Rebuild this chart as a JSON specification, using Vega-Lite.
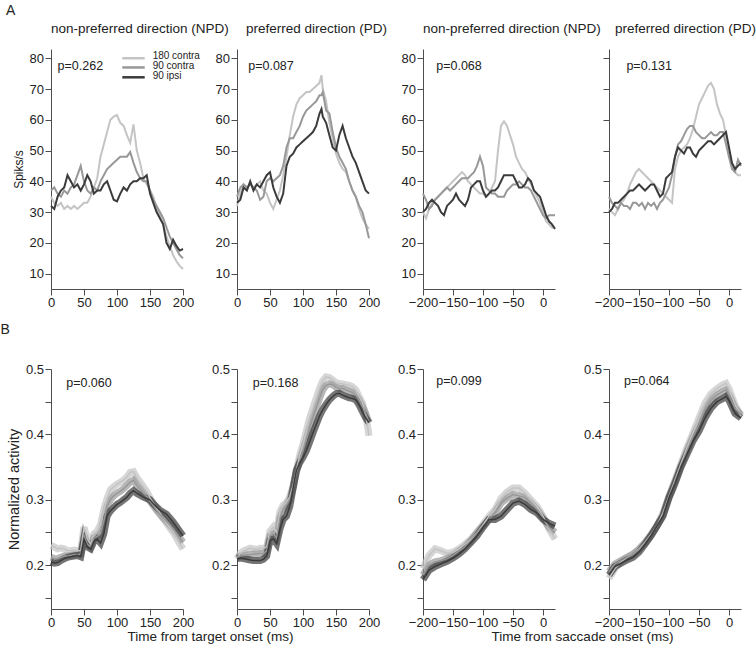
{
  "$schema": "https://vega.github.io/schema/vega-lite/v6.json",
  "background": "white",
  "padding": {"left": 0, "top": 3, "right": 4, "bottom": 2},
  "config": {
    "font": "Liberation Sans",
    "view": {"stroke": null},
    "axis": {"grid": false, "domainColor": "#4d4d4d", "tickColor": "#4d4d4d", "labelColor": "#222", "titleColor": "#222", "labelFontSize": 13, "tickSize": 6, "labelPadding": 1.5, "titleFontWeight": "normal", "titleFontSize": 13.5, "labelFlush": false, "labelOverlap": false, "labelBound": false},
    "title": {"fontWeight": "normal", "fontSize": 13.5, "color": "#222"}
  },
  "datasets": {
    "top1": [
      {"t":0,"c180":35,"c90":37,"i90":32},{"t":5,"c180":33,"c90":38,"i90":31},{"t":10,"c180":32,"c90":36,"i90":35},{"t":15,"c180":33,"c90":35,"i90":37},{"t":20,"c180":31,"c90":37,"i90":38},{"t":25,"c180":32,"c90":36,"i90":42},{"t":30,"c180":31,"c90":38,"i90":40},{"t":35,"c180":32,"c90":39,"i90":38},{"t":40,"c180":31,"c90":42,"i90":39},{"t":45,"c180":32,"c90":45,"i90":37},{"t":50,"c180":33,"c90":40,"i90":39},{"t":55,"c180":33,"c90":37,"i90":42},{"t":60,"c180":35,"c90":36,"i90":40},{"t":65,"c180":38,"c90":38,"i90":36},{"t":70,"c180":41,"c90":37,"i90":37},{"t":75,"c180":48,"c90":40,"i90":37},{"t":80,"c180":52,"c90":42,"i90":39},{"t":85,"c180":56,"c90":44,"i90":40},{"t":90,"c180":60,"c90":45,"i90":37},{"t":95,"c180":61,"c90":46,"i90":34},{"t":100,"c180":61.5,"c90":47,"i90":33.5},{"t":105,"c180":59,"c90":48,"i90":36},{"t":110,"c180":58,"c90":48,"i90":38},{"t":115,"c180":55,"c90":48,"i90":37},{"t":120,"c180":52.5,"c90":49.5,"i90":39},{"t":125,"c180":58.5,"c90":46,"i90":40},{"t":130,"c180":50,"c90":43,"i90":40},{"t":135,"c180":46,"c90":41,"i90":41},{"t":140,"c180":41,"c90":40,"i90":41},{"t":145,"c180":39,"c90":40,"i90":42},{"t":150,"c180":37,"c90":37,"i90":36},{"t":155,"c180":35,"c90":34,"i90":33},{"t":160,"c180":31,"c90":32,"i90":30},{"t":165,"c180":29,"c90":30,"i90":28},{"t":170,"c180":26,"c90":28,"i90":26},{"t":175,"c180":22,"c90":25,"i90":20},{"t":180,"c180":19,"c90":22,"i90":18},{"t":185,"c180":16,"c90":20,"i90":21},{"t":190,"c180":14,"c90":18,"i90":19},{"t":195,"c180":12.5,"c90":16,"i90":17.5},{"t":200,"c180":11.5,"c90":15,"i90":18}
    ],
    "top2": [
      {"t":0,"c180":32,"c90":35,"i90":33},{"t":5,"c180":36,"c90":38,"i90":34},{"t":10,"c180":39,"c90":39,"i90":38},{"t":15,"c180":38,"c90":38,"i90":37},{"t":20,"c180":39,"c90":39,"i90":40},{"t":25,"c180":38,"c90":38,"i90":37},{"t":30,"c180":39,"c90":37,"i90":39},{"t":35,"c180":40,"c90":34,"i90":38},{"t":40,"c180":37,"c90":35,"i90":40},{"t":45,"c180":36,"c90":40,"i90":42},{"t":50,"c180":33,"c90":41,"i90":43},{"t":55,"c180":31,"c90":40,"i90":38},{"t":60,"c180":34,"c90":41,"i90":35},{"t":65,"c180":37,"c90":42,"i90":33},{"t":70,"c180":42,"c90":45,"i90":36},{"t":75,"c180":48,"c90":51,"i90":45},{"t":80,"c180":55,"c90":54,"i90":48},{"t":85,"c180":61,"c90":54,"i90":49},{"t":90,"c180":65,"c90":56,"i90":51},{"t":95,"c180":67,"c90":58,"i90":52},{"t":100,"c180":68,"c90":61,"i90":53},{"t":105,"c180":69,"c90":63,"i90":54},{"t":110,"c180":69,"c90":64,"i90":55},{"t":115,"c180":70,"c90":65,"i90":56},{"t":120,"c180":71,"c90":66,"i90":58},{"t":125,"c180":72,"c90":68,"i90":62},{"t":128,"c180":74.5,"c90":68,"i90":63.5},{"t":130,"c180":70,"c90":69,"i90":61},{"t":135,"c180":66,"c90":63,"i90":59},{"t":140,"c180":59,"c90":62,"i90":55},{"t":145,"c180":54,"c90":56,"i90":51},{"t":150,"c180":49,"c90":51,"i90":50},{"t":155,"c180":46,"c90":48,"i90":55},{"t":160,"c180":44,"c90":46,"i90":58},{"t":165,"c180":43,"c90":44,"i90":54},{"t":170,"c180":40,"c90":40,"i90":51},{"t":175,"c180":37,"c90":37,"i90":48},{"t":180,"c180":35,"c90":35,"i90":46},{"t":185,"c180":31,"c90":32,"i90":43},{"t":190,"c180":28,"c90":30,"i90":40},{"t":195,"c180":26,"c90":26,"i90":37},{"t":200,"c180":24.5,"c90":21.5,"i90":36}
    ],
    "top3": [
      {"t":-200,"c180":30,"c90":36,"i90":30},{"t":-195,"c180":28,"c90":34,"i90":31},{"t":-190,"c180":31,"c90":31,"i90":33},{"t":-185,"c180":33,"c90":32,"i90":34},{"t":-180,"c180":34,"c90":34,"i90":33},{"t":-175,"c180":35,"c90":35,"i90":32},{"t":-170,"c180":36,"c90":36,"i90":30},{"t":-165,"c180":37,"c90":37,"i90":29},{"t":-160,"c180":38,"c90":38,"i90":32},{"t":-155,"c180":39,"c90":37,"i90":33},{"t":-150,"c180":40,"c90":38,"i90":34},{"t":-145,"c180":41,"c90":39,"i90":36},{"t":-140,"c180":42,"c90":40,"i90":34},{"t":-135,"c180":43,"c90":41,"i90":33},{"t":-130,"c180":42,"c90":41,"i90":32},{"t":-125,"c180":40,"c90":41,"i90":34},{"t":-120,"c180":39,"c90":42,"i90":38},{"t":-115,"c180":38,"c90":43,"i90":39},{"t":-110,"c180":37,"c90":45,"i90":40},{"t":-105,"c180":36,"c90":48,"i90":40},{"t":-100,"c180":36,"c90":45,"i90":37},{"t":-95,"c180":35,"c90":38,"i90":35},{"t":-90,"c180":36,"c90":37,"i90":36},{"t":-85,"c180":38,"c90":36,"i90":37},{"t":-80,"c180":40,"c90":36,"i90":37},{"t":-75,"c180":50,"c90":35,"i90":38},{"t":-70,"c180":58,"c90":35,"i90":40},{"t":-65,"c180":59.5,"c90":35,"i90":42},{"t":-60,"c180":58,"c90":37,"i90":42},{"t":-55,"c180":55,"c90":38,"i90":42},{"t":-50,"c180":52,"c90":39,"i90":42},{"t":-45,"c180":48,"c90":39,"i90":40},{"t":-40,"c180":46,"c90":40,"i90":38},{"t":-35,"c180":44,"c90":39,"i90":38},{"t":-30,"c180":43,"c90":38,"i90":39},{"t":-25,"c180":41,"c90":38,"i90":41},{"t":-20,"c180":39,"c90":37,"i90":40},{"t":-15,"c180":37,"c90":35,"i90":37},{"t":-10,"c180":35,"c90":33,"i90":36},{"t":-5,"c180":33,"c90":31,"i90":35},{"t":0,"c180":30,"c90":29,"i90":32},{"t":5,"c180":27,"c90":28,"i90":29},{"t":10,"c180":26,"c90":29,"i90":27},{"t":15,"c180":25,"c90":29,"i90":26},{"t":20,"c180":25,"c90":29,"i90":24.5}
    ],
    "top4": [
      {"t":-200,"c180":31,"c90":35,"i90":30},{"t":-195,"c180":30,"c90":33,"i90":31},{"t":-190,"c180":29,"c90":32,"i90":33},{"t":-185,"c180":31,"c90":31,"i90":33},{"t":-180,"c180":33,"c90":33,"i90":34},{"t":-175,"c180":34,"c90":32,"i90":35},{"t":-170,"c180":36,"c90":32,"i90":36},{"t":-165,"c180":39,"c90":31,"i90":37},{"t":-160,"c180":41,"c90":33,"i90":37},{"t":-155,"c180":43,"c90":33,"i90":38},{"t":-150,"c180":44,"c90":32,"i90":39},{"t":-145,"c180":43,"c90":33,"i90":38},{"t":-140,"c180":42,"c90":31,"i90":37},{"t":-135,"c180":41,"c90":33,"i90":38},{"t":-130,"c180":40,"c90":32,"i90":39},{"t":-125,"c180":39,"c90":33,"i90":39},{"t":-120,"c180":38,"c90":31,"i90":37},{"t":-115,"c180":37,"c90":33,"i90":35},{"t":-110,"c180":36,"c90":34,"i90":36},{"t":-105,"c180":35,"c90":36,"i90":41},{"t":-100,"c180":34,"c90":38,"i90":42},{"t":-95,"c180":33,"c90":42,"i90":43},{"t":-90,"c180":44,"c90":48,"i90":48},{"t":-85,"c180":48,"c90":52,"i90":51},{"t":-80,"c180":50,"c90":53,"i90":50},{"t":-75,"c180":51,"c90":55,"i90":49},{"t":-70,"c180":52,"c90":57,"i90":51},{"t":-65,"c180":54,"c90":58,"i90":51},{"t":-60,"c180":57,"c90":58,"i90":49},{"t":-55,"c180":61,"c90":56,"i90":48},{"t":-50,"c180":65,"c90":55,"i90":50},{"t":-45,"c180":67,"c90":54,"i90":51},{"t":-40,"c180":69,"c90":54,"i90":52},{"t":-35,"c180":71,"c90":55,"i90":53},{"t":-30,"c180":72,"c90":56,"i90":53},{"t":-25,"c180":70,"c90":55,"i90":52},{"t":-20,"c180":65,"c90":55,"i90":53},{"t":-15,"c180":62,"c90":56,"i90":54},{"t":-10,"c180":60,"c90":56,"i90":55},{"t":-5,"c180":55,"c90":52,"i90":56},{"t":0,"c180":48,"c90":48,"i90":51},{"t":5,"c180":45,"c90":44,"i90":46},{"t":10,"c180":43,"c90":43,"i90":44},{"t":15,"c180":42,"c90":47,"i90":45},{"t":20,"c180":42,"c90":45,"i90":46}
    ],
    "bot1": [
      {"t":0,"c180":0.23,"c90":0.212,"i90":0.205},{"t":5,"c180":0.228,"c90":0.21,"i90":0.203},{"t":10,"c180":0.225,"c90":0.21,"i90":0.204},{"t":15,"c180":0.226,"c90":0.212,"i90":0.207},{"t":20,"c180":0.225,"c90":0.214,"i90":0.21},{"t":25,"c180":0.222,"c90":0.214,"i90":0.212},{"t":30,"c180":0.222,"c90":0.215,"i90":0.213},{"t":35,"c180":0.223,"c90":0.216,"i90":0.214},{"t":40,"c180":0.222,"c90":0.216,"i90":0.215},{"t":45,"c180":0.222,"c90":0.217,"i90":0.213},{"t":50,"c180":0.258,"c90":0.245,"i90":0.24},{"t":55,"c180":0.24,"c90":0.232,"i90":0.228},{"t":60,"c180":0.232,"c90":0.228,"i90":0.225},{"t":65,"c180":0.248,"c90":0.242,"i90":0.236},{"t":70,"c180":0.252,"c90":0.244,"i90":0.24},{"t":75,"c180":0.262,"c90":0.248,"i90":0.234},{"t":80,"c180":0.285,"c90":0.268,"i90":0.248},{"t":85,"c180":0.302,"c90":0.29,"i90":0.275},{"t":90,"c180":0.315,"c90":0.3,"i90":0.283},{"t":95,"c180":0.32,"c90":0.306,"i90":0.288},{"t":100,"c180":0.324,"c90":0.31,"i90":0.293},{"t":105,"c180":0.327,"c90":0.313,"i90":0.296},{"t":110,"c180":0.33,"c90":0.317,"i90":0.3},{"t":115,"c180":0.335,"c90":0.322,"i90":0.304},{"t":120,"c180":0.342,"c90":0.327,"i90":0.31},{"t":125,"c180":0.343,"c90":0.33,"i90":0.314},{"t":130,"c180":0.334,"c90":0.322,"i90":0.31},{"t":135,"c180":0.327,"c90":0.316,"i90":0.307},{"t":140,"c180":0.32,"c90":0.31,"i90":0.304},{"t":145,"c180":0.313,"c90":0.305,"i90":0.302},{"t":150,"c180":0.303,"c90":0.298,"i90":0.3},{"t":155,"c180":0.295,"c90":0.291,"i90":0.294},{"t":160,"c180":0.287,"c90":0.284,"i90":0.289},{"t":165,"c180":0.28,"c90":0.278,"i90":0.284},{"t":170,"c180":0.272,"c90":0.272,"i90":0.281},{"t":175,"c180":0.264,"c90":0.267,"i90":0.278},{"t":180,"c180":0.257,"c90":0.262,"i90":0.272},{"t":185,"c180":0.25,"c90":0.256,"i90":0.266},{"t":190,"c180":0.242,"c90":0.249,"i90":0.259},{"t":195,"c180":0.233,"c90":0.242,"i90":0.252},{"t":200,"c180":0.225,"c90":0.235,"i90":0.245}
    ],
    "bot2": [
      {"t":0,"c180":0.21,"c90":0.212,"i90":0.21},{"t":5,"c180":0.218,"c90":0.214,"i90":0.211},{"t":10,"c180":0.222,"c90":0.215,"i90":0.21},{"t":15,"c180":0.224,"c90":0.216,"i90":0.209},{"t":20,"c180":0.226,"c90":0.216,"i90":0.208},{"t":25,"c180":0.225,"c90":0.217,"i90":0.207},{"t":30,"c180":0.224,"c90":0.217,"i90":0.207},{"t":35,"c180":0.226,"c90":0.218,"i90":0.207},{"t":40,"c180":0.226,"c90":0.218,"i90":0.209},{"t":45,"c180":0.228,"c90":0.222,"i90":0.214},{"t":50,"c180":0.252,"c90":0.245,"i90":0.238},{"t":55,"c180":0.258,"c90":0.248,"i90":0.24},{"t":60,"c180":0.25,"c90":0.242,"i90":0.233},{"t":65,"c180":0.282,"c90":0.272,"i90":0.255},{"t":70,"c180":0.292,"c90":0.285,"i90":0.27},{"t":75,"c180":0.296,"c90":0.292,"i90":0.275},{"t":80,"c180":0.305,"c90":0.3,"i90":0.29},{"t":85,"c180":0.322,"c90":0.318,"i90":0.318},{"t":90,"c180":0.345,"c90":0.342,"i90":0.345},{"t":95,"c180":0.368,"c90":0.36,"i90":0.357},{"t":100,"c180":0.385,"c90":0.375,"i90":0.365},{"t":105,"c180":0.405,"c90":0.392,"i90":0.375},{"t":110,"c180":0.425,"c90":0.41,"i90":0.388},{"t":115,"c180":0.44,"c90":0.425,"i90":0.402},{"t":120,"c180":0.455,"c90":0.44,"i90":0.415},{"t":125,"c180":0.47,"c90":0.455,"i90":0.428},{"t":130,"c180":0.482,"c90":0.468,"i90":0.438},{"t":135,"c180":0.488,"c90":0.475,"i90":0.446},{"t":140,"c180":0.487,"c90":0.477,"i90":0.453},{"t":145,"c180":0.483,"c90":0.476,"i90":0.458},{"t":150,"c180":0.479,"c90":0.472,"i90":0.462},{"t":155,"c180":0.478,"c90":0.47,"i90":0.463},{"t":160,"c180":0.477,"c90":0.47,"i90":0.46},{"t":165,"c180":0.476,"c90":0.468,"i90":0.458},{"t":170,"c180":0.475,"c90":0.466,"i90":0.456},{"t":175,"c180":0.473,"c90":0.464,"i90":0.455},{"t":180,"c180":0.468,"c90":0.46,"i90":0.453},{"t":185,"c180":0.458,"c90":0.452,"i90":0.445},{"t":190,"c180":0.448,"c90":0.443,"i90":0.435},{"t":195,"c180":0.43,"c90":0.432,"i90":0.425},{"t":200,"c180":0.398,"c90":0.418,"i90":0.418}
    ],
    "bot3": [
      {"t":-200,"c180":0.195,"c90":0.185,"i90":0.178},{"t":-190,"c180":0.215,"c90":0.2,"i90":0.192},{"t":-180,"c180":0.225,"c90":0.205,"i90":0.198},{"t":-170,"c180":0.222,"c90":0.207,"i90":0.202},{"t":-160,"c180":0.218,"c90":0.21,"i90":0.206},{"t":-150,"c180":0.22,"c90":0.215,"i90":0.211},{"t":-140,"c180":0.225,"c90":0.222,"i90":0.217},{"t":-130,"c180":0.232,"c90":0.228,"i90":0.225},{"t":-120,"c180":0.24,"c90":0.238,"i90":0.235},{"t":-110,"c180":0.25,"c90":0.25,"i90":0.245},{"t":-100,"c180":0.262,"c90":0.26,"i90":0.258},{"t":-90,"c180":0.275,"c90":0.27,"i90":0.27},{"t":-80,"c180":0.285,"c90":0.28,"i90":0.27},{"t":-70,"c180":0.302,"c90":0.295,"i90":0.275},{"t":-60,"c180":0.312,"c90":0.302,"i90":0.285},{"t":-50,"c180":0.318,"c90":0.308,"i90":0.295},{"t":-40,"c180":0.318,"c90":0.306,"i90":0.298},{"t":-30,"c180":0.31,"c90":0.303,"i90":0.293},{"t":-20,"c180":0.3,"c90":0.295,"i90":0.285},{"t":-10,"c180":0.29,"c90":0.285,"i90":0.28},{"t":0,"c180":0.275,"c90":0.272,"i90":0.27},{"t":10,"c180":0.255,"c90":0.258,"i90":0.264},{"t":20,"c180":0.24,"c90":0.25,"i90":0.26}
    ],
    "bot4": [
      {"t":-200,"c180":0.18,"c90":0.19,"i90":0.185},{"t":-190,"c180":0.195,"c90":0.202,"i90":0.198},{"t":-180,"c180":0.205,"c90":0.207,"i90":0.203},{"t":-170,"c180":0.212,"c90":0.212,"i90":0.208},{"t":-160,"c180":0.217,"c90":0.217,"i90":0.212},{"t":-150,"c180":0.225,"c90":0.224,"i90":0.22},{"t":-140,"c180":0.235,"c90":0.234,"i90":0.232},{"t":-130,"c180":0.247,"c90":0.246,"i90":0.245},{"t":-120,"c180":0.26,"c90":0.26,"i90":0.26},{"t":-110,"c180":0.28,"c90":0.277,"i90":0.275},{"t":-100,"c180":0.305,"c90":0.305,"i90":0.303},{"t":-90,"c180":0.33,"c90":0.328,"i90":0.325},{"t":-80,"c180":0.355,"c90":0.352,"i90":0.35},{"t":-70,"c180":0.38,"c90":0.375,"i90":0.37},{"t":-60,"c180":0.402,"c90":0.396,"i90":0.39},{"t":-50,"c180":0.425,"c90":0.415,"i90":0.405},{"t":-40,"c180":0.448,"c90":0.438,"i90":0.425},{"t":-30,"c180":0.462,"c90":0.452,"i90":0.44},{"t":-20,"c180":0.47,"c90":0.46,"i90":0.45},{"t":-10,"c180":0.476,"c90":0.466,"i90":0.455},{"t":-5,"c180":0.478,"c90":0.468,"i90":0.458},{"t":0,"c180":0.47,"c90":0.46,"i90":0.452},{"t":10,"c180":0.445,"c90":0.44,"i90":0.432},{"t":20,"c180":0.428,"c90":0.43,"i90":0.425}
    ]
  },
  "spacing": 12,
  "vconcat": [
    {
      "title": {"text": "A", "anchor": "start", "fontSize": 14, "offset": 4, "dx": -6},
      "spacing": 54,
      "bounds": "flush",
      "hconcat": [
        {
          "width": 132, "height": 240,
          "title": {"text": "non-preferred direction (NPD)", "anchor": "start", "frame": "group", "baseline": "bottom", "offset": 0, "dx": 0},
          "layer": [
            {
              "data": {"name": "top1"},
              "transform": [{"fold": ["c180", "c90", "i90"], "as": ["k", "v"]}],
              "mark": {"type": "line", "strokeWidth": 2},
              "encoding": {
                "x": {"field": "t", "type": "quantitative", "scale": {"domain": [0, 200], "nice": false, "zero": false}, "axis": {"values": [0, 50, 100, 150, 200], "title": null, "labelOverlap": false}},
                "y": {"field": "v", "type": "quantitative", "scale": {"domain": [5, 83], "nice": false, "zero": false}, "axis": {"values": [10, 20, 30, 40, 50, 60, 70, 80], "title": "Spiks/s", "titleFontSize": 12, "titlePadding": 4, "labelOverlap": false}},
                "color": {"field": "k", "type": "nominal", "scale": {"domain": ["c180", "c90", "i90"], "range": ["#c4c4c4", "#989898", "#3b3b3b"]}, "legend": null}
              }
            },
            {"data": {"values": [{"label": "p=0.262"}]}, "mark": {"type": "text", "align": "left", "baseline": "middle", "fontSize": 12.5, "color": "#222"}, "encoding": {"x": {"datum": 10, "axis": {"values": [0, 50, 100, 150, 200], "title": null, "labelOverlap": false}}, "y": {"datum": 77.5, "axis": {"values": [10, 20, 30, 40, 50, 60, 70, 80], "title": "Spiks/s", "titleFontSize": 12, "titlePadding": 4, "labelOverlap": false}}, "text": {"field": "label"}}},
            {"data": {"values": [{"k": "c180"}]}, "mark": {"type": "rule", "strokeWidth": 2.5}, "encoding": {"x": {"datum": 108, "axis": {"values": [0, 50, 100, 150, 200], "title": null, "labelOverlap": false}}, "x2": {"datum": 142}, "y": {"datum": 80, "axis": {"values": [10, 20, 30, 40, 50, 60, 70, 80], "title": "Spiks/s", "titleFontSize": 12, "titlePadding": 4, "labelOverlap": false}}, "color": {"field": "k", "type": "nominal", "legend": null}}},
            {"data": {"values": [{"k": "c90"}]}, "mark": {"type": "rule", "strokeWidth": 2.5}, "encoding": {"x": {"datum": 108, "axis": {"values": [0, 50, 100, 150, 200], "title": null, "labelOverlap": false}}, "x2": {"datum": 142}, "y": {"datum": 77, "axis": {"values": [10, 20, 30, 40, 50, 60, 70, 80], "title": "Spiks/s", "titleFontSize": 12, "titlePadding": 4, "labelOverlap": false}}, "color": {"field": "k", "type": "nominal", "legend": null}}},
            {"data": {"values": [{"k": "i90"}]}, "mark": {"type": "rule", "strokeWidth": 2.5}, "encoding": {"x": {"datum": 108, "axis": {"values": [0, 50, 100, 150, 200], "title": null, "labelOverlap": false}}, "x2": {"datum": 142}, "y": {"datum": 73.8, "axis": {"values": [10, 20, 30, 40, 50, 60, 70, 80], "title": "Spiks/s", "titleFontSize": 12, "titlePadding": 4, "labelOverlap": false}}, "color": {"field": "k", "type": "nominal", "legend": null}}},
            {"data": {"values": [{"label": "180 contra"}]}, "mark": {"type": "text", "align": "left", "baseline": "middle", "fontSize": 10, "color": "#222"}, "encoding": {"x": {"datum": 154, "axis": {"values": [0, 50, 100, 150, 200], "title": null, "labelOverlap": false}}, "y": {"datum": 80.6, "axis": {"values": [10, 20, 30, 40, 50, 60, 70, 80], "title": "Spiks/s", "titleFontSize": 12, "titlePadding": 4, "labelOverlap": false}}, "text": {"field": "label"}}},
            {"data": {"values": [{"label": "90 contra"}]}, "mark": {"type": "text", "align": "left", "baseline": "middle", "fontSize": 10, "color": "#222"}, "encoding": {"x": {"datum": 154, "axis": {"values": [0, 50, 100, 150, 200], "title": null, "labelOverlap": false}}, "y": {"datum": 77.4, "axis": {"values": [10, 20, 30, 40, 50, 60, 70, 80], "title": "Spiks/s", "titleFontSize": 12, "titlePadding": 4, "labelOverlap": false}}, "text": {"field": "label"}}},
            {"data": {"values": [{"label": "90 ipsi"}]}, "mark": {"type": "text", "align": "left", "baseline": "middle", "fontSize": 10, "color": "#222"}, "encoding": {"x": {"datum": 154, "axis": {"values": [0, 50, 100, 150, 200], "title": null, "labelOverlap": false}}, "y": {"datum": 74.2, "axis": {"values": [10, 20, 30, 40, 50, 60, 70, 80], "title": "Spiks/s", "titleFontSize": 12, "titlePadding": 4, "labelOverlap": false}}, "text": {"field": "label"}}}
          ]
        },
        {
          "width": 132, "height": 240,
          "title": {"text": "preferred direction (PD)", "anchor": "start", "frame": "group", "baseline": "bottom", "offset": 0, "dx": 9},
          "layer": [
            {
              "data": {"name": "top2"},
              "transform": [{"fold": ["c180", "c90", "i90"], "as": ["k", "v"]}],
              "mark": {"type": "line", "strokeWidth": 2},
              "encoding": {
                "x": {"field": "t", "type": "quantitative", "scale": {"domain": [0, 200], "nice": false, "zero": false}, "axis": {"values": [0, 50, 100, 150, 200], "title": null, "labelOverlap": false}},
                "y": {"field": "v", "type": "quantitative", "scale": {"domain": [5, 83], "nice": false, "zero": false}, "axis": {"values": [10, 20, 30, 40, 50, 60, 70, 80], "title": null, "labelOverlap": false}},
                "color": {"field": "k", "type": "nominal", "scale": {"domain": ["c180", "c90", "i90"], "range": ["#c4c4c4", "#989898", "#3b3b3b"]}, "legend": null}
              }
            },
            {"data": {"values": [{"label": "p=0.087"}]}, "mark": {"type": "text", "align": "left", "baseline": "middle", "fontSize": 12.5, "color": "#222"}, "encoding": {"x": {"datum": 17, "axis": {"values": [0, 50, 100, 150, 200], "title": null, "labelOverlap": false}}, "y": {"datum": 77.5, "axis": {"values": [10, 20, 30, 40, 50, 60, 70, 80], "title": null, "labelOverlap": false}}, "text": {"field": "label"}}}
          ]
        },
        {
          "width": 132, "height": 240,
          "title": {"text": "non-preferred direction (NPD)", "anchor": "start", "frame": "group", "baseline": "bottom", "offset": 0, "dx": 0},
          "layer": [
            {
              "data": {"name": "top3"},
              "transform": [{"fold": ["c180", "c90", "i90"], "as": ["k", "v"]}],
              "mark": {"type": "line", "strokeWidth": 2},
              "encoding": {
                "x": {"field": "t", "type": "quantitative", "scale": {"domain": [-200, 20], "nice": false, "zero": false}, "axis": {"values": [-200, -150, -100, -50, 0], "title": null, "labelOverlap": false}},
                "y": {"field": "v", "type": "quantitative", "scale": {"domain": [5, 83], "nice": false, "zero": false}, "axis": {"values": [10, 20, 30, 40, 50, 60, 70, 80], "title": null, "labelOverlap": false}},
                "color": {"field": "k", "type": "nominal", "scale": {"domain": ["c180", "c90", "i90"], "range": ["#c4c4c4", "#989898", "#3b3b3b"]}, "legend": null}
              }
            },
            {"data": {"values": [{"label": "p=0.068"}]}, "mark": {"type": "text", "align": "left", "baseline": "middle", "fontSize": 12.5, "color": "#222"}, "encoding": {"x": {"datum": -178, "axis": {"values": [-200, -150, -100, -50, 0], "title": null, "labelOverlap": false}}, "y": {"datum": 77.5, "axis": {"values": [10, 20, 30, 40, 50, 60, 70, 80], "title": null, "labelOverlap": false}}, "text": {"field": "label"}}}
          ]
        },
        {
          "width": 132, "height": 240,
          "title": {"text": "preferred direction (PD)", "anchor": "start", "frame": "group", "baseline": "bottom", "offset": 0, "dx": 6},
          "layer": [
            {
              "data": {"name": "top4"},
              "transform": [{"fold": ["c180", "c90", "i90"], "as": ["k", "v"]}],
              "mark": {"type": "line", "strokeWidth": 2},
              "encoding": {
                "x": {"field": "t", "type": "quantitative", "scale": {"domain": [-200, 20], "nice": false, "zero": false}, "axis": {"values": [-200, -150, -100, -50, 0], "title": null, "labelOverlap": false}},
                "y": {"field": "v", "type": "quantitative", "scale": {"domain": [5, 83], "nice": false, "zero": false}, "axis": {"values": [10, 20, 30, 40, 50, 60, 70, 80], "title": null, "labels": false}},
                "color": {"field": "k", "type": "nominal", "scale": {"domain": ["c180", "c90", "i90"], "range": ["#c4c4c4", "#989898", "#3b3b3b"]}, "legend": null}
              }
            },
            {"data": {"values": [{"label": "p=0.131"}]}, "mark": {"type": "text", "align": "left", "baseline": "middle", "fontSize": 12.5, "color": "#222"}, "encoding": {"x": {"datum": -171, "axis": {"values": [-200, -150, -100, -50, 0], "title": null, "labelOverlap": false}}, "y": {"datum": 77.5, "axis": {"values": [10, 20, 30, 40, 50, 60, 70, 80], "title": null, "labels": false}}, "text": {"field": "label"}}}
          ]
        }
      ]
    },
    {
      "title": {"text": "B", "anchor": "start", "fontSize": 14, "offset": 26, "dx": -6},
      "spacing": 54,
      "bounds": "flush",
      "hconcat": [
        {
          "width": 132, "height": 240,
          "layer": [
            {
              "data": {"name": "bot1"},
              "transform": [{"fold": ["c180", "c90", "i90"], "as": ["k", "v"]}],
              "mark": {"type": "line", "strokeWidth": 7, "opacity": 0.7},
              "encoding": {
                "x": {"field": "t", "type": "quantitative", "scale": {"domain": [0, 200], "nice": false, "zero": false}, "axis": {"values": [0, 50, 100, 150, 200], "title": "Time from target onset (ms)", "titleX": 159, "titlePadding": 0, "labelOverlap": false}},
                "y": {"field": "v", "type": "quantitative", "scale": {"domain": [0.133, 0.5], "nice": false, "zero": false}, "axis": {"values": [0.15, 0.2, 0.25, 0.3, 0.35, 0.4, 0.45, 0.5], "labelExpr": "round(datum.value*100) % 10 == 0 ? format(datum.value, '.1f') : ''", "title": "Normalized activity", "titleFontSize": 14.5, "titlePadding": 4, "labelOverlap": false}},
                "color": {"field": "k", "type": "nominal", "scale": {"domain": ["c180", "c90", "i90"], "range": ["#c4c4c4", "#989898", "#3b3b3b"]}, "legend": null}
              }
            },
            {
              "data": {"name": "bot1"},
              "transform": [{"fold": ["c180", "c90", "i90"], "as": ["k", "v"]}],
              "mark": {"type": "line", "strokeWidth": 1.5},
              "encoding": {
                "x": {"field": "t", "type": "quantitative", "axis": {"values": [0, 50, 100, 150, 200], "title": "Time from target onset (ms)", "titleX": 159, "titlePadding": 0, "labelOverlap": false}},
                "y": {"field": "v", "type": "quantitative", "axis": {"values": [0.15, 0.2, 0.25, 0.3, 0.35, 0.4, 0.45, 0.5], "labelExpr": "round(datum.value*100) % 10 == 0 ? format(datum.value, '.1f') : ''", "title": "Normalized activity", "titleFontSize": 14.5, "titlePadding": 4, "labelOverlap": false}},
                "color": {"field": "k", "type": "nominal", "legend": null}
              }
            },
            {"data": {"values": [{"label": "p=0.060"}]}, "mark": {"type": "text", "align": "left", "baseline": "middle", "fontSize": 12.5, "color": "#222"}, "encoding": {
              "x": {"datum": 23, "axis": {"values": [0, 50, 100, 150, 200], "title": "Time from target onset (ms)", "titleX": 159, "titlePadding": 0, "labelOverlap": false}},
              "y": {"datum": 0.478, "axis": {"values": [0.15, 0.2, 0.25, 0.3, 0.35, 0.4, 0.45, 0.5], "labelExpr": "round(datum.value*100) % 10 == 0 ? format(datum.value, '.1f') : ''", "title": "Normalized activity", "titleFontSize": 14.5, "titlePadding": 4, "labelOverlap": false}},
              "text": {"field": "label"}}}
          ]
        },
        {
          "width": 132, "height": 240,
          "layer": [
            {
              "data": {"name": "bot2"},
              "transform": [{"fold": ["c180", "c90", "i90"], "as": ["k", "v"]}],
              "mark": {"type": "line", "strokeWidth": 7, "opacity": 0.7},
              "encoding": {
                "x": {"field": "t", "type": "quantitative", "scale": {"domain": [0, 200], "nice": false, "zero": false}, "axis": {"values": [0, 50, 100, 150, 200], "title": null, "labelOverlap": false}},
                "y": {"field": "v", "type": "quantitative", "scale": {"domain": [0.133, 0.5], "nice": false, "zero": false}, "axis": {"values": [0.15, 0.2, 0.25, 0.3, 0.35, 0.4, 0.45, 0.5], "labelExpr": "round(datum.value*100) % 10 == 0 ? format(datum.value, '.1f') : ''", "title": null, "labelOverlap": false}},
                "color": {"field": "k", "type": "nominal", "scale": {"domain": ["c180", "c90", "i90"], "range": ["#c4c4c4", "#989898", "#3b3b3b"]}, "legend": null}
              }
            },
            {
              "data": {"name": "bot2"},
              "transform": [{"fold": ["c180", "c90", "i90"], "as": ["k", "v"]}],
              "mark": {"type": "line", "strokeWidth": 1.5},
              "encoding": {
                "x": {"field": "t", "type": "quantitative", "axis": {"values": [0, 50, 100, 150, 200], "title": null, "labelOverlap": false}},
                "y": {"field": "v", "type": "quantitative", "axis": {"values": [0.15, 0.2, 0.25, 0.3, 0.35, 0.4, 0.45, 0.5], "labelExpr": "round(datum.value*100) % 10 == 0 ? format(datum.value, '.1f') : ''", "title": null, "labelOverlap": false}},
                "color": {"field": "k", "type": "nominal", "legend": null}
              }
            },
            {"data": {"values": [{"label": "p=0.168"}]}, "mark": {"type": "text", "align": "left", "baseline": "middle", "fontSize": 12.5, "color": "#222"}, "encoding": {
              "x": {"datum": 24, "axis": {"values": [0, 50, 100, 150, 200], "title": null, "labelOverlap": false}},
              "y": {"datum": 0.478, "axis": {"values": [0.15, 0.2, 0.25, 0.3, 0.35, 0.4, 0.45, 0.5], "labelExpr": "round(datum.value*100) % 10 == 0 ? format(datum.value, '.1f') : ''", "title": null, "labelOverlap": false}},
              "text": {"field": "label"}}}
          ]
        },
        {
          "width": 132, "height": 240,
          "layer": [
            {
              "data": {"name": "bot3"},
              "transform": [{"fold": ["c180", "c90", "i90"], "as": ["k", "v"]}],
              "mark": {"type": "line", "strokeWidth": 7, "opacity": 0.7},
              "encoding": {
                "x": {"field": "t", "type": "quantitative", "scale": {"domain": [-200, 20], "nice": false, "zero": false}, "axis": {"values": [-200, -150, -100, -50, 0], "title": "Time from saccade onset (ms)", "titleX": 159, "titlePadding": 0, "labelOverlap": false}},
                "y": {"field": "v", "type": "quantitative", "scale": {"domain": [0.133, 0.5], "nice": false, "zero": false}, "axis": {"values": [0.15, 0.2, 0.25, 0.3, 0.35, 0.4, 0.45, 0.5], "labelExpr": "round(datum.value*100) % 10 == 0 ? format(datum.value, '.1f') : ''", "title": null, "labelOverlap": false}},
                "color": {"field": "k", "type": "nominal", "scale": {"domain": ["c180", "c90", "i90"], "range": ["#c4c4c4", "#989898", "#3b3b3b"]}, "legend": null}
              }
            },
            {
              "data": {"name": "bot3"},
              "transform": [{"fold": ["c180", "c90", "i90"], "as": ["k", "v"]}],
              "mark": {"type": "line", "strokeWidth": 1.5},
              "encoding": {
                "x": {"field": "t", "type": "quantitative", "axis": {"values": [-200, -150, -100, -50, 0], "title": "Time from saccade onset (ms)", "titleX": 159, "titlePadding": 0, "labelOverlap": false}},
                "y": {"field": "v", "type": "quantitative", "axis": {"values": [0.15, 0.2, 0.25, 0.3, 0.35, 0.4, 0.45, 0.5], "labelExpr": "round(datum.value*100) % 10 == 0 ? format(datum.value, '.1f') : ''", "title": null, "labelOverlap": false}},
                "color": {"field": "k", "type": "nominal", "legend": null}
              }
            },
            {"data": {"values": [{"label": "p=0.099"}]}, "mark": {"type": "text", "align": "left", "baseline": "middle", "fontSize": 12.5, "color": "#222"}, "encoding": {
              "x": {"datum": -178, "axis": {"values": [-200, -150, -100, -50, 0], "title": "Time from saccade onset (ms)", "titleX": 159, "titlePadding": 0, "labelOverlap": false}},
              "y": {"datum": 0.481, "axis": {"values": [0.15, 0.2, 0.25, 0.3, 0.35, 0.4, 0.45, 0.5], "labelExpr": "round(datum.value*100) % 10 == 0 ? format(datum.value, '.1f') : ''", "title": null, "labelOverlap": false}},
              "text": {"field": "label"}}}
          ]
        },
        {
          "width": 132, "height": 240,
          "layer": [
            {
              "data": {"name": "bot4"},
              "transform": [{"fold": ["c180", "c90", "i90"], "as": ["k", "v"]}],
              "mark": {"type": "line", "strokeWidth": 7, "opacity": 0.7},
              "encoding": {
                "x": {"field": "t", "type": "quantitative", "scale": {"domain": [-200, 20], "nice": false, "zero": false}, "axis": {"values": [-200, -150, -100, -50, 0], "title": null, "labelOverlap": false}},
                "y": {"field": "v", "type": "quantitative", "scale": {"domain": [0.133, 0.5], "nice": false, "zero": false}, "axis": {"values": [0.15, 0.2, 0.25, 0.3, 0.35, 0.4, 0.45, 0.5], "labelExpr": "round(datum.value*100) % 10 == 0 ? format(datum.value, '.1f') : ''", "title": null, "labelOverlap": false}},
                "color": {"field": "k", "type": "nominal", "scale": {"domain": ["c180", "c90", "i90"], "range": ["#c4c4c4", "#989898", "#3b3b3b"]}, "legend": null}
              }
            },
            {
              "data": {"name": "bot4"},
              "transform": [{"fold": ["c180", "c90", "i90"], "as": ["k", "v"]}],
              "mark": {"type": "line", "strokeWidth": 1.5},
              "encoding": {
                "x": {"field": "t", "type": "quantitative", "axis": {"values": [-200, -150, -100, -50, 0], "title": null, "labelOverlap": false}},
                "y": {"field": "v", "type": "quantitative", "axis": {"values": [0.15, 0.2, 0.25, 0.3, 0.35, 0.4, 0.45, 0.5], "labelExpr": "round(datum.value*100) % 10 == 0 ? format(datum.value, '.1f') : ''", "title": null, "labelOverlap": false}},
                "color": {"field": "k", "type": "nominal", "legend": null}
              }
            },
            {"data": {"values": [{"label": "p=0.064"}]}, "mark": {"type": "text", "align": "left", "baseline": "middle", "fontSize": 12.5, "color": "#222"}, "encoding": {
              "x": {"datum": -175, "axis": {"values": [-200, -150, -100, -50, 0], "title": null, "labelOverlap": false}},
              "y": {"datum": 0.481, "axis": {"values": [0.15, 0.2, 0.25, 0.3, 0.35, 0.4, 0.45, 0.5], "labelExpr": "round(datum.value*100) % 10 == 0 ? format(datum.value, '.1f') : ''", "title": null, "labelOverlap": false}},
              "text": {"field": "label"}}}
          ]
        }
      ]
    }
  ]
}
